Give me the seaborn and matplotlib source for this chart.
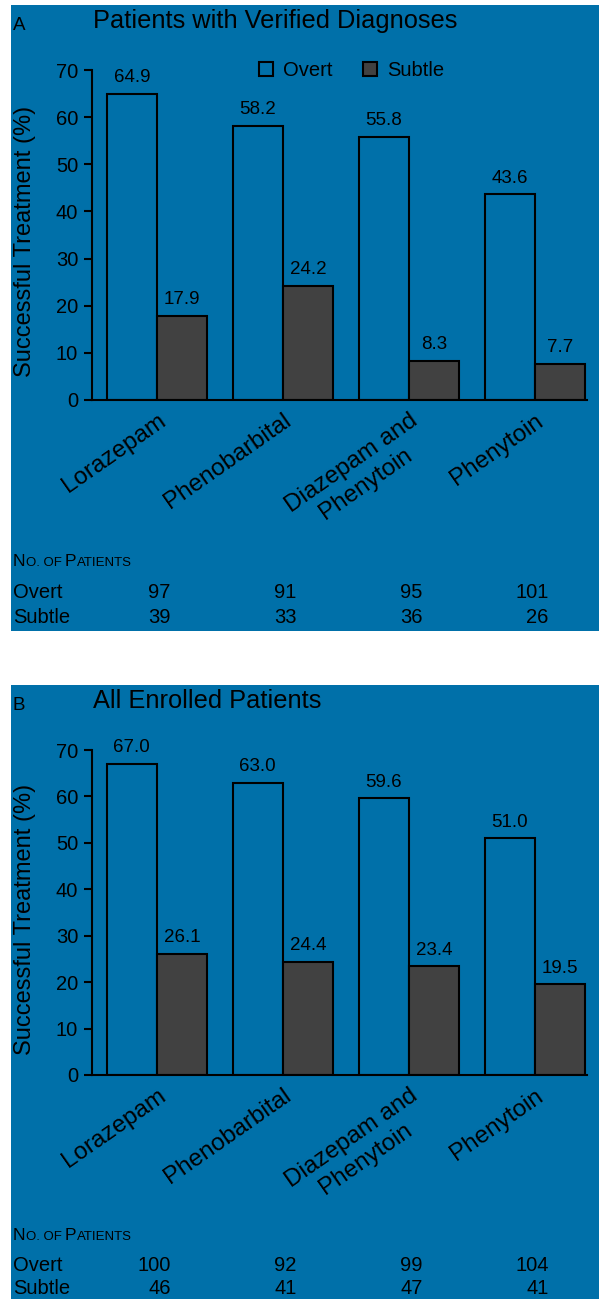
import pandas as pd
import matplotlib.pyplot as plt
import matplotlib.transforms as mtransforms
from matplotlib.patches import Rectangle, Patch
import seaborn as sns

# Data
drugs = ["Lorazepam", "Phenobarbital", "Diazepam and\nPhenytoin", "Phenytoin"]
groups = ["Overt", "Subtle"]

overt_verified = [64.9, 58.2, 55.8, 43.6]
subtle_verified = [17.9, 24.2, 8.3, 7.7]
overt_all = [67.0, 63.0, 59.6, 51.0]
subtle_all = [26.1, 24.4, 23.4, 19.5]

n_overt_verified = [97, 91, 95, 101]
n_subtle_verified = [39, 33, 36, 26]
n_overt_all = [100, 92, 99, 104]
n_subtle_all = [46, 41, 47, 41]

yticks = [0, 10, 20, 30, 40, 50, 60, 70]

BLUE = "#0070a9"
GRAY = "#414141"

sns.set_style("ticks")
plt.rcParams["font.family"] = ["Liberation Sans", "DejaVu Sans"]
plt.rcParams["text.color"] = "black"
plt.rcParams["axes.labelcolor"] = "black"
plt.rcParams["xtick.color"] = "black"
plt.rcParams["ytick.color"] = "black"

W, H = 599, 1299
fig = plt.figure(figsize=(W / 100, H / 100), dpi=100, facecolor="white")


def fx(px):
    return px / W


def fy(py):
    # pixel measured from the top
    return 1 - py / H


def draw_panel(top, bottom, letter, title, overt, subtle, n_overt, n_subtle,
               ax_top, ax_bottom, table_y, show_legend):
    # blue panel background
    fig.patches.append(Rectangle((fx(11), fy(bottom)), 1 - fx(11), fy(top) - fy(bottom),
                                 transform=fig.transFigure, facecolor=BLUE,
                                 edgecolor="none", zorder=-10))

    fig.text(fx(13), fy(top + 25), letter, fontsize=13.5, va="baseline")
    fig.text(fx(93), fy(top + 23), title, fontsize=18.3, va="baseline")

    ax = fig.add_axes([fx(92), fy(ax_bottom), fx(587) - fx(92), fy(ax_top) - fy(ax_bottom)])
    ax.set_facecolor("none")

    df = pd.DataFrame({
        "drug": drugs * 2,
        "group": ["Overt"] * len(drugs) + ["Subtle"] * len(drugs),
        "pct": overt + subtle,
    })
    sns.barplot(data=df, x="drug", y="pct", hue="group", order=drugs, hue_order=groups,
                palette={"Overt": BLUE, "Subtle": GRAY}, saturation=1,
                edgecolor="black", linewidth=1.5, legend=False, ax=ax)

    for cont in ax.containers:
        ax.bar_label(cont, fmt="%.1f", padding=5.5, fontsize=13.5)

    ax.set_ylim(0, 70)
    ax.set_xlim(-0.516, 3.413)
    ax.set_yticks(yticks)
    ax.tick_params(axis="y", length=6, width=1.5, pad=4, labelsize=14.5)
    ax.tick_params(axis="x", length=0, pad=7)
    ax.set_xticks(range(len(drugs)))
    ax.set_xticklabels(drugs, rotation=35, ha="right", rotation_mode="anchor",
                       multialignment="center", fontsize=17.5)

    sns.despine(ax=ax)
    for side in ["left", "bottom"]:
        ax.spines[side].set_linewidth(1.5)
        ax.spines[side].set_color("black")

    ax.set_xlabel("")
    ax.set_ylabel("Successful Treatment (%)", fontsize=17)
    ax.yaxis.set_label_coords(-0.113, 0.48)

    if show_legend:
        handles = [Patch(facecolor=BLUE, edgecolor="black", linewidth=1.5),
                   Patch(facecolor=GRAY, edgecolor="black", linewidth=1.5)]
        ax.legend(handles, groups, loc="upper left", ncol=2, frameon=False,
                  bbox_to_anchor=(fx(259), fy(61)), bbox_transform=fig.transFigure,
                  fontsize=14.5, handlelength=0.7, handleheight=0.7,
                  handletextpad=0.5, columnspacing=1.5, borderpad=0,
                  borderaxespad=0)

    # No. of patients table
    y_head, y_overt, y_subtle = table_y
    x0 = fx(13)
    parts = [("N", 12.5), ("O. OF ", 9.5), ("P", 12.5), ("ATIENTS", 9.5)]
    prev = None
    for piece, size in parts:
        if prev is None:
            prev = fig.text(x0, fy(y_head), piece, fontsize=size, va="bottom")
        else:
            prev = ax.annotate(piece, xy=(1, 0), xycoords=prev, fontsize=size,
                               va="bottom", ha="left", annotation_clip=False)

    blend = mtransforms.blended_transform_factory(ax.transData, fig.transFigure)
    fig.text(x0, fy(y_overt), "Overt", fontsize=14.5, va="baseline")
    fig.text(x0, fy(y_subtle), "Subtle", fontsize=14.5, va="baseline")
    for i in range(len(drugs)):
        ax.text(i + 0.11, fy(y_overt), str(n_overt[i]), transform=blend,
                ha="right", va="baseline", fontsize=14.5, clip_on=False)
        ax.text(i + 0.11, fy(y_subtle), str(n_subtle[i]), transform=blend,
                ha="right", va="baseline", fontsize=14.5, clip_on=False)
    return ax


draw_panel(5, 631, "A", "Patients with Verified Diagnoses",
           overt_verified, subtle_verified, n_overt_verified, n_subtle_verified,
           ax_top=70, ax_bottom=400, table_y=(569, 598, 623), show_legend=True)

draw_panel(685, 1299, "B", "All Enrolled Patients",
           overt_all, subtle_all, n_overt_all, n_subtle_all,
           ax_top=750, ax_bottom=1075, table_y=(1243, 1271, 1294), show_legend=False)

plt.savefig("out.png", dpi=100, facecolor="white")
